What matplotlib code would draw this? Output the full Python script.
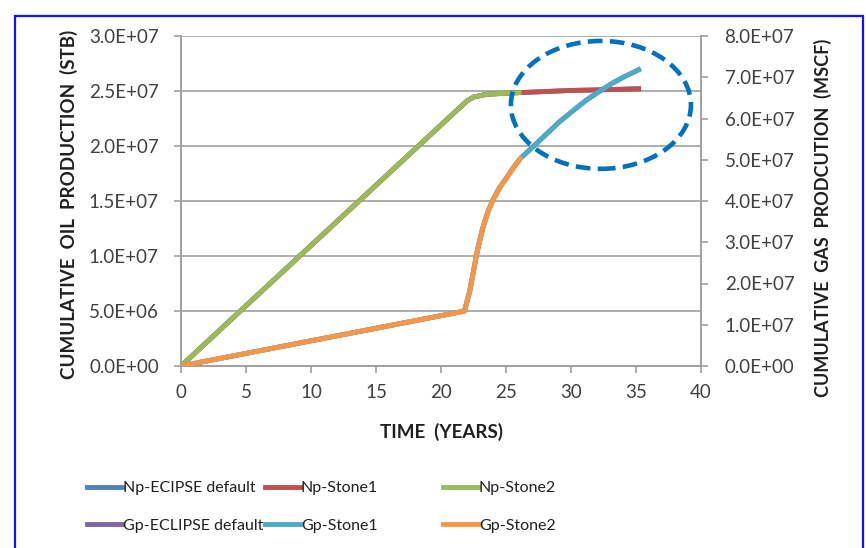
import matplotlib.pyplot as plt
from matplotlib.patches import Ellipse, Rectangle
from matplotlib.lines import Line2D

plt.rcParams['font.family'] = ['Lato', 'DejaVu Sans']

# oil (left axis, STB)
oil_years = [0, 22.0, 22.5, 23.5, 25.0, 26.0, 28.0, 30.0, 32.0, 35.2]
oil_np = [0, 24.1e6, 24.45e6, 24.7e6, 24.8e6, 24.85e6, 24.95e6, 25.05e6, 25.1e6, 25.2e6]

# gas (right axis, MSCF)
gas_years = [0, 21.8, 22.2, 22.5, 22.8, 23.2, 23.6, 24.0, 24.5, 25.1, 25.6, 26.1,
             27.4, 28.2, 29.15, 30.2, 31.2, 32.2, 33.2, 34.2, 35.2]
gas_gp = [0, 13.3e6, 18.0e6, 23.0e6, 28.0e6, 33.3e6, 37.3e6, 40.3e6, 43.2e6, 45.9e6, 48.2e6, 50.3e6,
          54.1e6, 56.5e6, 59.3e6, 62.0e6, 64.5e6, 66.6e6, 68.6e6, 70.3e6, 71.8e6]

# Stone2 runs stop around year 26
stone2_oil_n = 6
stone2_gas_n = 12

colors = {
    'Np-ECIPSE default': '#4F81BD',
    'Np-Stone1': '#C0504D',
    'Np-Stone2': '#9BBB59',
    'Gp-ECLIPSE default': '#8064A2',
    'Gp-Stone1': '#4BACC6',
    'Gp-Stone2': '#F79646',
}

grey = '#A0A0A0'
lw = 3.5


def sci(v):
    if v == 0:
        return '0.0E+00'
    e = len(str(int(v))) - 1
    return '%.1fE+%02d' % (v / 10 ** e, e)


fig = plt.figure(figsize=(8.66, 5.48), dpi=100)
ax = fig.add_axes([181 / 866, 1 - 366 / 548, 520 / 866, 330 / 548])
ax2 = ax.twinx()

ax.plot(oil_years, oil_np, color=colors['Np-ECIPSE default'], lw=lw, zorder=2)
ax.plot(oil_years, oil_np, color=colors['Np-Stone1'], lw=lw, zorder=3)
ax.plot(oil_years[:stone2_oil_n], oil_np[:stone2_oil_n], color=colors['Np-Stone2'], lw=lw, zorder=4)

ax2.plot(gas_years, gas_gp, color=colors['Gp-ECLIPSE default'], lw=lw, zorder=2)
ax2.plot(gas_years, gas_gp, color=colors['Gp-Stone1'], lw=lw, zorder=3)
ax2.plot(gas_years[:stone2_gas_n], gas_gp[:stone2_gas_n], color=colors['Gp-Stone2'], lw=lw, zorder=4)

ax.set_xlim(0, 40)
ax.set_ylim(0, 3.0e7)
ax2.set_ylim(0, 8.0e7)
ax.set_xticks(range(0, 41, 5))
ax.set_yticks([i * 5e6 for i in range(7)])
ax2.set_yticks([i * 1e7 for i in range(9)])
ax.set_yticklabels([sci(v) for v in ax.get_yticks()])
ax2.set_yticklabels([sci(v) for v in ax2.get_yticks()])

ax.grid(axis='y', color=grey, lw=1.2)
for a in (ax, ax2):
    a.spines['top'].set_visible(False)
    for s in ('left', 'right', 'bottom'):
        a.spines[s].set_color(grey)
        a.spines[s].set_linewidth(1.2)
    a.tick_params(colors=grey, labelcolor='#404040', labelsize=13.5, length=5, width=1.2)
ax.tick_params(axis='y', pad=11)
ax.tick_params(axis='x', pad=8)
ax2.tick_params(axis='y', pad=12)

ax.set_xlabel('TIME  (YEARS)', fontsize=13.5, fontweight='bold', color='#202020', labelpad=16)
ax.set_ylabel('CUMULATIVE  OIL  PRODUCTION  (STB)', fontsize=13.5, fontweight='bold', color='#202020', labelpad=8)
ax2.set_ylabel('CUMULATIVE  GAS  PRODCUTION  (MSCF)', fontsize=13, fontweight='bold', color='#202020', labelpad=14)
ax.yaxis.label.set_y(0.49)
ax2.yaxis.label.set_y(0.45)

# highlight ellipse
ax2.set_zorder(ax.get_zorder() + 1)
ax2.add_patch(Ellipse((32.3, 63.3e6), 13.85, 31.0e6, fill=False, edgecolor='#0070C0',
                      lw=3.3, linestyle=(0, (3.2, 1.6)), zorder=6, clip_on=False))

# legend in three fixed columns
cols = [['Np-ECIPSE default', 'Gp-ECLIPSE default'],
        ['Np-Stone1', 'Gp-Stone1'],
        ['Np-Stone2', 'Gp-Stone2']]
col_x = [87, 265, 443]
for names, x in zip(cols, col_x):
    handles = [Line2D([], [], color=colors[n], lw=lw) for n in names]
    fig.legend(handles, names, loc='upper left', bbox_to_anchor=(x / 866, 1 - 481 / 548),
               frameon=False, fontsize=11.5, handlelength=2.2, handletextpad=0.05,
               labelspacing=1.45, borderaxespad=0, borderpad=0, labelcolor='#202020')

fig.add_artist(Rectangle((15 / 866, -0.1), 848 / 866, 1 - 16 / 548 + 0.1, transform=fig.transFigure,
                         fill=False, edgecolor='#1010FF', lw=1.6))

fig.savefig('out.png', dpi=100)
